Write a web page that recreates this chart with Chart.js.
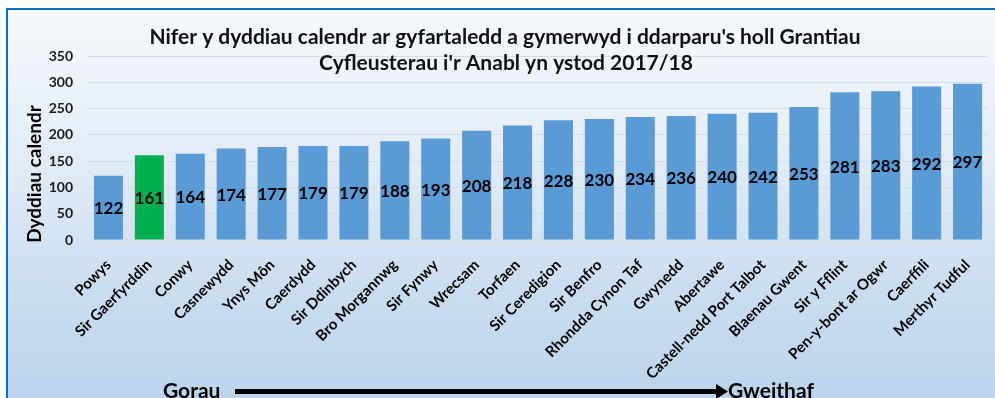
<!DOCTYPE html>
<html lang="cy">
<head>
<meta charset="UTF-8">
<title>Grantiau Cyfleusterau i'r Anabl 2017/18</title>
<script src="https://cdn.jsdelivr.net/npm/chart.js"></script>
<style>
  html, body { margin: 0; padding: 0; background: #fff; }
  body { width: 995px; height: 398px; position: relative; overflow: hidden; }
  .ffram {
    position: absolute; left: 6px; top: 8px; width: 1000px; height: 400px;
    border-left: 2px solid #0B6DC4; border-top: 2px solid #0B6DC4;
    background: linear-gradient(to bottom, #F6F9FC 0%, #E4EDF7 35%, #CADDF0 70%, #BAD4EC 100%);
  }
  .graff { position: absolute; left: 0; top: 0; width: 995px; height: 398px; }
</style>
</head>
<body>
<div class="ffram"></div>
<div class="graff"><canvas id="grafDyddiau"></canvas></div>

<script>
// awdurdodau lleol, o'r gorau i'r gwaethaf
const awdurdodau = ['Powys', 'Sir Gaerfyrddin', 'Conwy', 'Casnewydd', 'Ynys Môn', 'Caerdydd',
    'Sir Ddinbych', 'Bro Morgannwg', 'Sir Fynwy', 'Wrecsam', 'Torfaen', 'Sir Ceredigion',
    'Sir Benfro', 'Rhondda Cynon Taf', 'Gwynedd', 'Abertawe', 'Castell-nedd Port Talbot',
    'Blaenau Gwent', 'Sir y Fflint', 'Pen-y-bont ar Ogwr', 'Caerffili', 'Merthyr Tudful'];
// nifer y dyddiau calendr ar gyfartaledd
const dyddiau = [122, 161, 164, 174, 177, 179, 179, 188, 193, 208, 218, 228,
    230, 234, 236, 240, 242, 253, 281, 283, 292, 297];
const ticiauY = [0, 50, 100, 150, 200, 250, 300, 350];
const teitl = ["Nifer y dyddiau calendr ar gyfartaledd a gymerwyd i ddarparu's holl Grantiau",
    "Cyfleusterau i'r Anabl yn ystod 2017/18"];
const teitlEchelY = 'Dyddiau calendr';
const awdurdodAmlwg = 'Sir Gaerfyrddin';

const FFONT = 'Lato, "Open Sans", sans-serif';
const lliwiau = awdurdodau.map(a => a === awdurdodAmlwg ? '#00B050' : '#5B9BD5');

// rhifau yng nghanol pob bar
const labeliGwerth = {
    id: 'labeliGwerth',
    afterDatasetsDraw(chart) {
        const ctx = chart.ctx;
        const y = chart.scales.y;
        const meta = chart.getDatasetMeta(0);
        ctx.save();
        ctx.font = 'bold 17px ' + FFONT;
        ctx.fillStyle = '#000';
        ctx.textAlign = 'center';
        ctx.textBaseline = 'middle';
        meta.data.forEach((bar, i) => {
            const v = dyddiau[i];
            ctx.fillText(String(v), bar.x, y.getPixelForValue(v / 2) + 1);
        });
        ctx.restore();
    }
};

// teitl, teitl yr echel a'r saeth Gorau -> Gweithaf
const testunau = {
    id: 'testunau',
    afterDraw(chart) {
        const ctx = chart.ctx;
        ctx.save();
        ctx.fillStyle = '#111';
        ctx.textAlign = 'center';
        ctx.textBaseline = 'middle';
        ctx.font = 'bold 21px ' + FFONT;
        ctx.fillText(teitl[0], 505, 37);
        ctx.fillText(teitl[1], 506, 63);

        ctx.save();
        ctx.translate(35, 174);
        ctx.rotate(-Math.PI / 2);
        ctx.font = 'bold 19px ' + FFONT;
        ctx.fillStyle = '#000';
        ctx.fillText(teitlEchelY, 0, 0);
        ctx.restore();

        ctx.fillStyle = '#000';
        ctx.textBaseline = 'alphabetic';
        ctx.font = 'bold 21px ' + FFONT;
        ctx.textAlign = 'left';
        ctx.fillText('Gorau', 163, 398);
        ctx.fillText('Gweithaf', 728, 398);

        ctx.fillRect(235, 389, 484, 5);
        ctx.beginPath();
        ctx.moveTo(716, 384);
        ctx.lineTo(728, 391.5);
        ctx.lineTo(716, 399);
        ctx.closePath();
        ctx.fill();
        ctx.restore();
    }
};

new Chart(document.getElementById('grafDyddiau'), {
    type: 'bar',
    data: {
        labels: awdurdodau,
        datasets: [{
            data: dyddiau,
            backgroundColor: lliwiau,
            barPercentage: 0.71,
            categoryPercentage: 1
        }]
    },
    options: {
        responsive: true,
        maintainAspectRatio: false,
        animation: false,
        layout: { padding: { top: 56, right: 7, left: 0, bottom: 0 } },
        plugins: {
            legend: { display: false },
            tooltip: { enabled: false }
        },
        scales: {
            y: {
                min: 0,
                max: 350,
                afterFit(scale) { scale.width = 88; },
                afterBuildTicks(scale) { scale.ticks = ticiauY.map(v => ({ value: v })); },
                grid: { color: '#D5DCE5', drawTicks: false },
                border: { display: false },
                ticks: {
                    padding: 15,
                    color: '#1a1a1a',
                    font: { family: FFONT, size: 14, weight: 'bold' }
                }
            },
            x: {
                afterFit(scale) { scale.height = 158; },
                grid: { display: false },
                border: { display: false },
                ticks: {
                    autoSkip: false,
                    minRotation: 45,
                    maxRotation: 45,
                    padding: 8,
                    color: '#000',
                    font: { family: FFONT, size: 15, weight: 'bold' }
                }
            }
        }
    },
    plugins: [labeliGwerth, testunau]
});
</script>
</body>
</html>
